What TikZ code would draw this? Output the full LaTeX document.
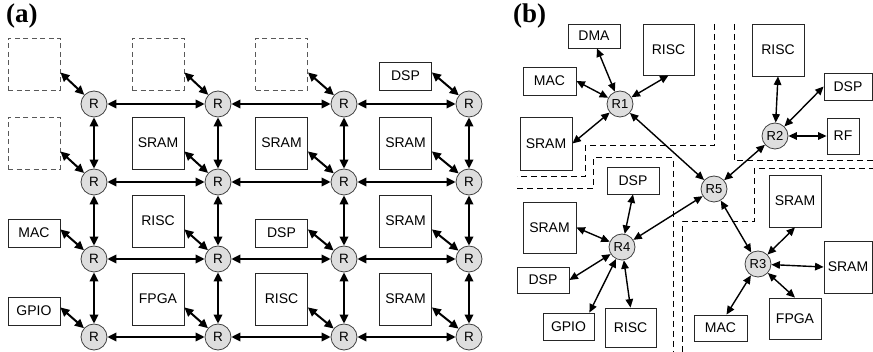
\documentclass[tikz,border=0pt]{standalone}
\usepackage{fontspec}
\setmainfont{Liberation Sans}
\newfontfamily\labfont{Liberation Serif}
\usetikzlibrary{arrows.meta}
\begin{document}
\begin{tikzpicture}[x=1pt,y=-1pt,
  router/.style={circle, draw=black!75, fill=black!13, line width=0.8pt, minimum size=26pt, inner sep=0pt, font=\fontsize{13.5}{14}\selectfont},
  rtr/.style={router, font=\fontsize{13}{13}\selectfont},
  blk/.style={draw=black!85, line width=0.8pt, inner sep=0pt, font=\fontsize{14}{15}\selectfont},
  big/.style={blk, minimum width=52pt, minimum height=52pt},
  small/.style={blk, minimum width=52pt, minimum height=28pt},
  ghost/.style={big, draw=black!65, line width=0.9pt, dash pattern=on 5pt off 3.5pt},
  lnk/.style={{Triangle[length=9pt,width=8.5pt]}-{Triangle[length=9pt,width=8.5pt]}, line width=2pt},
  lnkb/.style={{Triangle[length=8.5pt,width=7.5pt]}-{Triangle[length=8.5pt,width=7.5pt]}, line width=1.4pt},
  zone/.style={draw=black, line width=1pt, dash pattern=on 6pt off 4pt},
  lab/.style={font=\labfont\bfseries\fontsize{27}{27}\selectfont, anchor=north west, inner sep=0pt}
]
\useasboundingbox (0,0) rectangle (873,352);

% ---------- (a) ----------
\node[lab] (la) at (6,4) {(a)};

\node[router] (r00) at (94,104) {R};
\node[router] (r01) at (218,104) {R};
\node[router] (r02) at (344,104) {R};
\node[router] (r03) at (469,104) {R};
\node[router] (r10) at (94,182) {R};
\node[router] (r11) at (218,182) {R};
\node[router] (r12) at (344,182) {R};
\node[router] (r13) at (469,182) {R};
\node[router] (r20) at (94,259) {R};
\node[router] (r21) at (218,259) {R};
\node[router] (r22) at (344,259) {R};
\node[router] (r23) at (469,259) {R};
\node[router] (r30) at (94,337) {R};
\node[router] (r31) at (218,337) {R};
\node[router] (r32) at (344,337) {R};
\node[router] (r33) at (469,337) {R};

\node[ghost] (b00) at (34,64) {};
\node[ghost] (b01) at (158,64) {};
\node[ghost] (b02) at (281.5,64) {};
\node[small] (b03) at (405.5,76) {DSP};
\node[ghost] (b10) at (34,143) {};
\node[big] (b11) at (158,143) {SRAM};
\node[big] (b12) at (281.5,143) {SRAM};
\node[big] (b13) at (405.5,143) {SRAM};
\node[small] (b20) at (34,233) {MAC};
\node[big] (b21) at (158,221) {RISC};
\node[small] (b22) at (281.5,233) {DSP};
\node[big] (b23) at (405.5,221) {SRAM};
\node[small] (b30) at (34,311) {GPIO};
\node[big] (b31) at (158,299) {FPGA};
\node[big] (b32) at (281.5,299) {RISC};
\node[big] (b33) at (405.5,299) {SRAM};

\foreach \r in {0,...,3}{
  \foreach \c in {0,...,3}{
    \draw[lnk] ([yshift=18pt]b\r\c.south east) -- (r\r\c);
  }
  \draw[lnk] (r\r0) -- (r\r1);
  \draw[lnk] (r\r1) -- (r\r2);
  \draw[lnk] (r\r2) -- (r\r3);
  \draw[lnk] (r0\r) -- (r1\r);
  \draw[lnk] (r1\r) -- (r2\r);
  \draw[lnk] (r2\r) -- (r3\r);
}

% ---------- (b) ----------
\node[lab] (lb) at (513,4) {(b)};

\draw[zone] (714,24) -- (714,146) -- (585,146) -- (585,177) -- (517,177);
\draw[zone] (517,189) -- (593,189) -- (593,158) -- (673,158) -- (673,352);
\draw[zone] (682,352) -- (682,222) -- (754,222) -- (754,169) -- (873,169);
\draw[zone] (734,24) -- (734,161) -- (873,161);

\node[rtr] (R1) at (620,104) {R1};
\node[rtr] (R2) at (775,136) {R2};
\node[rtr] (R3) at (758,264) {R3};
\node[rtr] (R4) at (622,247) {R4};
\node[rtr] (R5) at (714,189) {R5};

\node[blk, minimum width=52pt, minimum height=24pt] (dma) at (594,36) {DMA};
\node[blk, minimum width=51pt, minimum height=51pt] (risc1) at (668.5,49.5) {RISC};
\node[blk, minimum width=52pt, minimum height=53pt] (sram1) at (546,143.5) {SRAM};
\node[blk, minimum width=53pt, minimum height=28pt] (mac1) at (549.5,81) {MAC};
\node[blk, minimum width=52pt, minimum height=52pt] (risc2) at (778,50) {RISC};
\node[blk, minimum width=48pt, minimum height=27pt] (dsp2) at (848,86.5) {DSP};
\node[blk, minimum width=32pt, minimum height=36pt] (rf) at (843,136) {RF};
\node[blk, minimum width=52pt, minimum height=27pt] (dsp4t) at (633,180.5) {DSP};
\node[blk, minimum width=53pt, minimum height=51pt] (sram4) at (549.5,227.5) {SRAM};
\node[blk, minimum width=52pt, minimum height=26pt] (dsp4l) at (543,280) {DSP};
\node[blk, minimum width=51pt, minimum height=27pt] (gpio) at (568.5,326.5) {GPIO};
\node[blk, minimum width=51pt, minimum height=39pt] (risc4) at (630.5,327.5) {RISC};
\node[blk, minimum width=52pt, minimum height=52pt] (sram3u) at (795,201) {SRAM};
\node[blk, minimum width=48pt, minimum height=52pt] (sram3r) at (848,267) {SRAM};
\node[blk, minimum width=52pt, minimum height=41pt] (fpga) at (795,318.5) {FPGA};
\node[blk, minimum width=53pt, minimum height=26pt] (mac3) at (720.5,328) {MAC};

\draw[lnkb] ([xshift=3pt]dma.south) -- (R1);
\draw[lnkb] (mac1.east) -- (R1);
\draw[lnkb] (risc1.south) -- (R1);
\draw[lnkb] (sram1.east) -- (R1);
\draw[lnkb] (R1) -- (R5);
\draw[lnkb] (risc2.south) -- (R2);
\draw[lnkb] (dsp2.west) -- (R2);
\draw[lnkb] (R2) -- (rf.west);
\draw[lnkb] (R2) -- (R5);
\draw[lnkb] (dsp4t.south) -- (R4);
\draw[lnkb] (sram4.east) -- (R4);
\draw[lnkb] (dsp4l.east) -- (R4);
\draw[lnkb] ([xshift=-5pt]gpio.north east) -- (R4);
\draw[lnkb] (risc4.north) -- (R4);
\draw[lnkb] (R4) -- (R5);
\draw[lnkb] (sram3u.south) -- (R3);
\draw[lnkb] (R3) -- (sram3r.west);
\draw[lnkb] (fpga.north) -- (R3);
\draw[lnkb] ([xshift=6pt]mac3.north) -- (R3);
\draw[lnkb] (R5) -- (R3);
\end{tikzpicture}
\end{document}
